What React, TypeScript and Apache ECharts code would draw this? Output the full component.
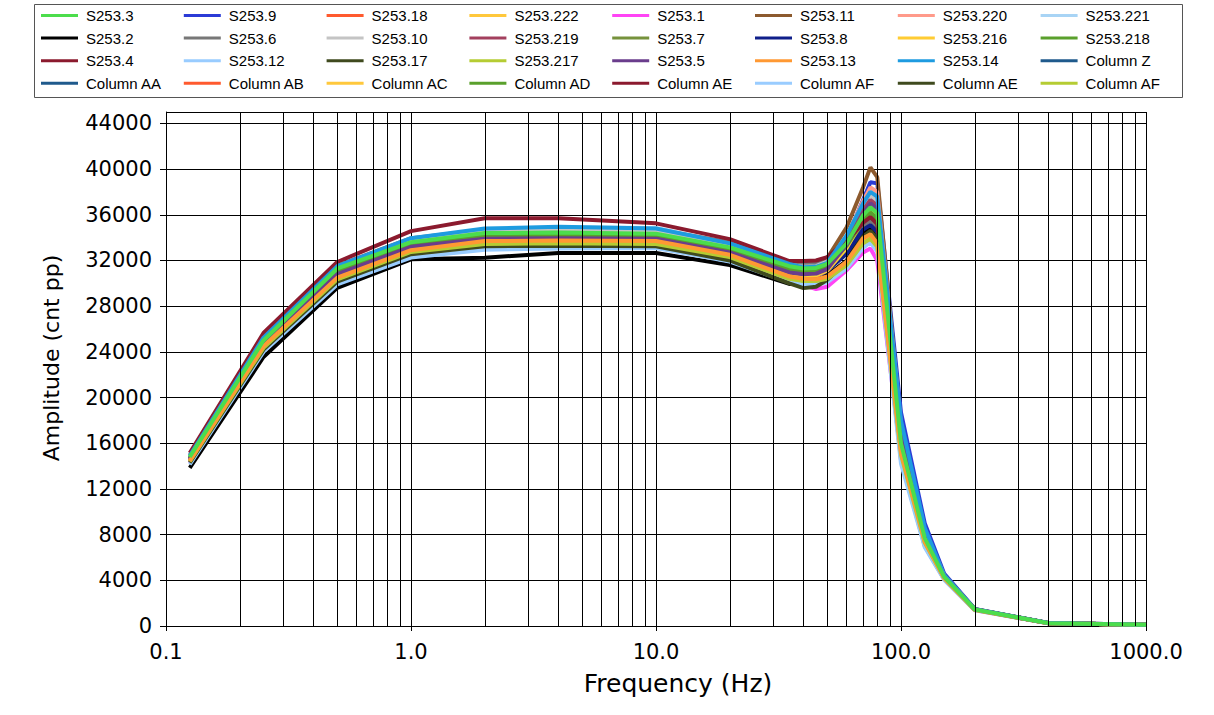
import { useEffect, useRef } from "react";
import * as echarts from "echarts";

// frequencies (Hz) of the measured points
const freq = [0.125, 0.25, 0.5, 1, 2, 4, 10, 20, 35, 40, 45, 50, 60, 70, 75, 80, 100, 125, 150, 200, 400, 1000];

const s253_3 = [14800, 25000, 31300, 33600, 34400, 34450, 34350, 33150, 31500, 31300, 31350, 31700, 33500, 35950, 36650, 36150, 16000, 7700, 4300, 1450, 250, 120];
const s253_9 = [14650, 24800, 30900, 33200, 34100, 34200, 34400, 32900, 31000, 30750, 30700, 31000, 33950, 37300, 38850, 38750, 18700, 9000, 4600, 1500, 260, 120];
const s253_18 = [14400, 24400, 30350, 32750, 33700, 33850, 33750, 32450, 30700, 30450, 30400, 30550, 31850, 34050, 34400, 33600, 14500, 7000, 4100, 1400, 240, 110];
const s253_222 = [14450, 24500, 30450, 32850, 33600, 33750, 33800, 32500, 30600, 30300, 30250, 30500, 31700, 33600, 34000, 33300, 15000, 7300, 4200, 1420, 250, 115];
const s253_1 = [14250, 24200, 30100, 32500, 33450, 33500, 33200, 32200, 30100, 29850, 29500, 29700, 31150, 32700, 33050, 32000, 14800, 7200, 4150, 1400, 240, 110];
const s253_11 = [14500, 24550, 30600, 33000, 33700, 33600, 33600, 32600, 31500, 31500, 31700, 32200, 34900, 38400, 40150, 39300, 17500, 8400, 4450, 1480, 255, 120];
const s253_220 = [14500, 24600, 30650, 33050, 33650, 33650, 33700, 32650, 31000, 30900, 31000, 31500, 34100, 37200, 38400, 38000, 17600, 8300, 4400, 1470, 255, 120];
const s253_221 = [14900, 25200, 31450, 33900, 34700, 34900, 34850, 33500, 31600, 31200, 31300, 31400, 32600, 33500, 33800, 33200, 15200, 7300, 4150, 1420, 245, 115];
const s253_2 = [13850, 23550, 29600, 32100, 32250, 32650, 32650, 31600, 29950, 30000, 30200, 30700, 32000, 34400, 34750, 34000, 16200, 7800, 4300, 1450, 250, 120];
const s253_6 = [14950, 25300, 31550, 33950, 34700, 34800, 34700, 33600, 31800, 31700, 31750, 32000, 33300, 35000, 35500, 34900, 16300, 7800, 4300, 1450, 250, 120];
const s253_10 = [14850, 25150, 31400, 33750, 34550, 34600, 34550, 33350, 31600, 31450, 31500, 31900, 34000, 36800, 37700, 37200, 17200, 8100, 4350, 1460, 250, 120];
const s253_219 = [14500, 24600, 30650, 33000, 33600, 33650, 33600, 32500, 30900, 30800, 30850, 31300, 33600, 36400, 37300, 36800, 17000, 8000, 4350, 1460, 250, 120];
const s253_7 = [14750, 24950, 31200, 33500, 34250, 34300, 34250, 33050, 31300, 31100, 31150, 31500, 33200, 35400, 36000, 35500, 16200, 7800, 4300, 1450, 250, 120];
const s253_8 = [14600, 24750, 30900, 33250, 33950, 34000, 34000, 32800, 31000, 30800, 30800, 31100, 32600, 34700, 35100, 34500, 16500, 7900, 4300, 1450, 250, 120];
const s253_216 = [14550, 24650, 30750, 33150, 33850, 33900, 33850, 32650, 30850, 30650, 30700, 31100, 33100, 35600, 36300, 35800, 16400, 7800, 4300, 1450, 250, 120];
const s253_218 = [14700, 24900, 31100, 33450, 34200, 34250, 34200, 33000, 31250, 31050, 31100, 31450, 33300, 35500, 36200, 35700, 16300, 7800, 4300, 1450, 250, 120];
const s253_4 = [15150, 25650, 31870, 34570, 35700, 35700, 35250, 33870, 31950, 31950, 32000, 32300, 33700, 35300, 35800, 35200, 16100, 7700, 4300, 1450, 250, 120];
const s253_12 = [14150, 24000, 29900, 32250, 32950, 33050, 33100, 31900, 30100, 29900, 29900, 30100, 31300, 33100, 33600, 32800, 14200, 6900, 4050, 1380, 240, 110];
const s253_17 = [14300, 24200, 30150, 32550, 33250, 33300, 33250, 32000, 30000, 29580, 29700, 30300, 31900, 34100, 34600, 33900, 15800, 7600, 4250, 1440, 250, 115];
const s253_217 = [14400, 24350, 30350, 32750, 33450, 33500, 33450, 32300, 30400, 30200, 30200, 30400, 31600, 33500, 33900, 33200, 15000, 7300, 4200, 1420, 245, 115];
const s253_5 = [14600, 24700, 30800, 33200, 33900, 33950, 33900, 32700, 30950, 30800, 30850, 31250, 33400, 36100, 37000, 36500, 16900, 8000, 4350, 1460, 250, 120];
const s253_13 = [14450, 24500, 30500, 32900, 33700, 33750, 33700, 32500, 30600, 30400, 30350, 30600, 31900, 33950, 34300, 33500, 15200, 7400, 4200, 1420, 245, 115];
const s253_14 = [14900, 25250, 31500, 33950, 34800, 34950, 34800, 33500, 31700, 31400, 31450, 31800, 34200, 37000, 38000, 37600, 18000, 8600, 4450, 1480, 255, 120];

// legend order (row by row, 8 per row)
const names = [
  "S253.3", "S253.9", "S253.18", "S253.222", "S253.1", "S253.11", "S253.220", "S253.221",
  "S253.2", "S253.6", "S253.10", "S253.219", "S253.7", "S253.8", "S253.216", "S253.218",
  "S253.4", "S253.12", "S253.17", "S253.217", "S253.5", "S253.13", "S253.14", "Column Z",
  "Column AA", "Column AB", "Column AC", "Column AD", "Column AE", "Column AF", "Column AE ", "Column AF ",
];
const values: number[][] = [
  s253_3, s253_9, s253_18, s253_222, s253_1, s253_11, s253_220, s253_221,
  s253_2, s253_6, s253_10, s253_219, s253_7, s253_8, s253_216, s253_218,
  s253_4, s253_12, s253_17, s253_217, s253_5, s253_13, s253_14, [],
  [], [], [], [], [], [], [], [],
];
const colors = [
  "#4CDD4C", "#2B3BD6", "#FF5A2E", "#FFC83C", "#FF44F5", "#8C5A2E", "#FF9A8A", "#A8D4F5",
  "#000000", "#777777", "#C4C4C4", "#A3405E", "#76923C", "#0F1F8A", "#FFCC33", "#5AA02C",
  "#8B1A2E", "#99CCFF", "#3F4A1E", "#B5CC33", "#6A3D8C", "#FF9933", "#1E9BE0", "#1F5A8C",
  "#1F5A8C", "#FF5A2E", "#FFC83C", "#5AA02C", "#8B1A2E", "#99CCFF", "#3F4A1E", "#B5CC33",
];

// vertical log grid lines between the decades
const minorGrid = [
  0.2, 0.3, 0.4, 0.5, 0.6, 0.7, 0.8, 0.9,
  2, 3, 4, 5, 6, 7, 8, 9,
  20, 30, 40, 50, 60, 70, 80, 90,
  200, 300, 400, 500, 600, 700, 800, 900,
];

const tickFont = "DejaVu Sans";

export default function App() {
  const ref = useRef<HTMLDivElement | null>(null);

  useEffect(() => {
    if (!ref.current) return;
    const chart = echarts.init(ref.current, null, { renderer: "svg" });

    // draw green last so it sits on top in the tail, like the original
    const order = names.map((_, i) => i).filter((i) => i !== 0).concat([0]);
    const lines = order.map((i) => ({
      type: "line",
      name: names[i],
      data: values[i].map((v, k) => [freq[k], v]),
      symbol: "none",
      showSymbol: false,
      silent: true,
      z: 3,
      lineStyle: { width: 4, color: colors[i] },
      itemStyle: { color: colors[i] },
    }));

    const legends = names.map((n, i) => ({
      left: 41 + (i % 8) * 142.8,
      top: 8 + Math.floor(i / 8) * 22.6,
      data: [n],
      icon: "rect",
      itemWidth: 37,
      itemHeight: 3,
      padding: 0,
      selectedMode: false,
      textStyle: { fontFamily: "Liberation Sans", fontSize: 15, color: "#000", padding: [0, 0, 0, 3] },
    }));

    chart.setOption({
      animation: false,
      backgroundColor: "#fff",
      legend: legends,
      graphic: [
        {
          type: "rect",
          shape: { x: 34.5, y: 4.5, width: 1148, height: 93 },
          style: { fill: "none", stroke: "#555", lineWidth: 1 },
          silent: true,
        },
      ],
      grid: { left: 166, right: 68, top: 112, bottom: 89 },
      xAxis: {
        type: "log",
        logBase: 10,
        min: 0.1,
        max: 1000,
        axisLine: { lineStyle: { color: "#000", width: 1 } },
        axisTick: { show: true, length: 5, lineStyle: { color: "#000" } },
        splitLine: { show: true, lineStyle: { color: "#000", width: 1 } },
        axisLabel: {
          fontFamily: tickFont,
          fontSize: 21,
          color: "#000",
          margin: 15,
          formatter: (v: number) => v.toFixed(1),
        },
        name: "Frequency (Hz)",
        nameLocation: "middle",
        nameGap: 45,
        nameTextStyle: { fontFamily: tickFont, fontSize: 25, color: "#000", padding: [0, 0, 0, 44] },
      },
      yAxis: {
        type: "value",
        min: 0,
        max: 45000,
        interval: 4000,
        axisLine: { show: true, lineStyle: { color: "#000", width: 1 } },
        axisTick: { show: true, length: 6, lineStyle: { color: "#000" } },
        splitLine: { show: true, lineStyle: { color: "#000", width: 1 } },
        axisLabel: {
          fontFamily: tickFont,
          fontSize: 21,
          color: "#000",
          margin: 14,
          showMaxLabel: false,
          formatter: (v: number) => String(v),
        },
        name: "Amplitude (cnt pp)",
        nameLocation: "middle",
        nameGap: 104,
        nameTextStyle: { fontFamily: tickFont, fontSize: 22, color: "#000", padding: [0, 0, 0, 22] },
      },
      series: [
        {
          type: "line",
          name: "grid",
          data: [],
          silent: true,
          z: 1,
          markLine: {
            silent: true,
            symbol: ["none", "none"],
            label: { show: false },
            lineStyle: { color: "#000", width: 1, type: "solid" },
            emphasis: { disabled: true },
            data: minorGrid.map((x) => ({ xAxis: x })),
          },
        },
        ...lines,
      ],
    });

    return () => chart.dispose();
  }, []);

  return <div ref={ref} style={{ position: "fixed", left: 0, top: 0, width: 1214, height: 715 }} />;
}
